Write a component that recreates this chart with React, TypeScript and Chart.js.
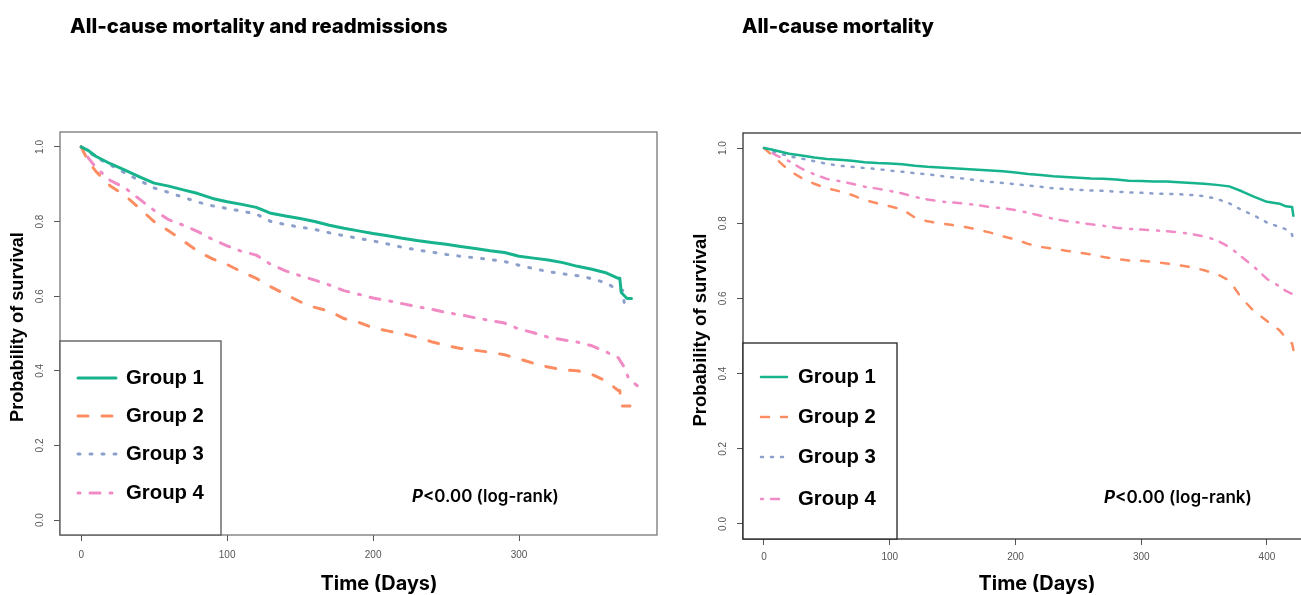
import React, { useEffect, useRef } from "react";
import { Chart, registerables } from "chart.js";

Chart.register(...registerables);

// ---------- data ----------
const GROUP_LABELS = ["Group 1", "Group 2", "Group 3", "Group 4"];
const GROUP_COLORS = ["#16B38D", "#FC8D62", "#8DA0CB", "#F08BC5"];

const Y_TICKS = [0, 0.2, 0.4, 0.6, 0.8, 1.0];
const X_TICKS_LEFT = [0, 100, 200, 300];
const X_TICKS_RIGHT = [0, 100, 200, 300, 400];

const TITLE_LEFT = "All-cause mortality and readmissions";
const TITLE_RIGHT = "All-cause mortality";
const Y_TITLE = "Probability of survival";
const X_TITLE = "Time (Days)";
const P_ITALIC = "P";
const P_REST = "<0.00 (log-rank)";

// Left panel: all-cause mortality and readmissions
const LEFT_TIMES = [0, 5, 10, 20, 30, 40, 50, 60, 70, 80, 90, 100, 110, 120, 130, 140, 150, 160, 170, 180, 190, 200, 210, 220, 230, 240, 250, 260, 270, 280, 290, 300, 310, 320, 330, 340, 350, 360];
const LEFT_G1 = [1.0, 0.99, 0.975, 0.955, 0.938, 0.92, 0.903, 0.895, 0.885, 0.875, 0.862, 0.853, 0.846, 0.838, 0.822, 0.815, 0.808, 0.8, 0.79, 0.782, 0.775, 0.768, 0.762, 0.755, 0.749, 0.744, 0.739, 0.733, 0.728, 0.722, 0.717, 0.707, 0.702, 0.697, 0.69, 0.68, 0.672, 0.662];
const LEFT_G2 = [1.0, 0.96, 0.935, 0.895, 0.87, 0.835, 0.8, 0.775, 0.748, 0.72, 0.7, 0.685, 0.665, 0.648, 0.625, 0.605, 0.585, 0.57, 0.56, 0.54, 0.53, 0.515, 0.507, 0.5, 0.49, 0.478, 0.468, 0.46, 0.455, 0.45, 0.443, 0.432, 0.42, 0.41, 0.403, 0.4, 0.39, 0.372];
const LEFT_G3 = [1.0, 0.988, 0.972, 0.952, 0.93, 0.91, 0.89, 0.878, 0.865, 0.852, 0.842, 0.835, 0.828, 0.82, 0.8, 0.792, 0.785, 0.779, 0.77, 0.762, 0.755, 0.748, 0.74, 0.731, 0.724, 0.718, 0.712, 0.707, 0.703, 0.698, 0.693, 0.683, 0.674, 0.666, 0.66, 0.655, 0.647, 0.635];
const LEFT_G4 = [1.0, 0.97, 0.945, 0.91, 0.89, 0.86, 0.83, 0.805, 0.79, 0.773, 0.752, 0.735, 0.72, 0.71, 0.685, 0.668, 0.655, 0.643, 0.63, 0.615, 0.605, 0.595, 0.588, 0.58, 0.572, 0.565, 0.556, 0.55, 0.542, 0.535, 0.528, 0.512, 0.502, 0.49, 0.483, 0.477, 0.467, 0.45];
const LEFT_G1_END_T = [368, 369, 370, 374, 377];
const LEFT_G1_END = [0.648, 0.648, 0.61, 0.594, 0.594];
const LEFT_G2_END_T = [368, 369, 370, 376];
const LEFT_G2_END = [0.347, 0.347, 0.306, 0.306];
const LEFT_G3_END_T = [368, 371, 372, 376];
const LEFT_G3_END = [0.616, 0.616, 0.583, 0.57];
const LEFT_G4_END_T = [368, 372, 375, 381];
const LEFT_G4_END = [0.435, 0.41, 0.38, 0.36];

// Right panel: all-cause mortality
const RIGHT_TIMES = [0, 5, 10, 20, 30, 40, 50, 60, 70, 80, 90, 100, 110, 120, 130, 140, 150, 160, 170, 180, 190, 200, 210, 220, 230, 240, 250, 260, 270, 280, 290, 300, 310, 320, 330, 340, 350, 360, 370, 380, 390, 400, 410];
const RIGHT_G1 = [1.0, 0.997, 0.993, 0.985, 0.98, 0.975, 0.971, 0.969, 0.966, 0.962, 0.96, 0.959, 0.957, 0.953, 0.95, 0.948, 0.946, 0.944, 0.942, 0.94, 0.938, 0.935, 0.931, 0.928, 0.925, 0.923, 0.921, 0.919, 0.918, 0.916, 0.913, 0.912, 0.911, 0.911, 0.909, 0.907, 0.905, 0.902, 0.898, 0.885, 0.87, 0.857, 0.852];
const RIGHT_G2 = [1.0, 0.985, 0.97, 0.94, 0.92, 0.905, 0.893, 0.885, 0.875, 0.862, 0.853, 0.845, 0.837, 0.815, 0.805, 0.8, 0.795, 0.79, 0.783, 0.775, 0.765, 0.757, 0.745, 0.737, 0.732, 0.727, 0.722, 0.717, 0.71, 0.705, 0.701, 0.7, 0.697, 0.693, 0.688, 0.683, 0.675, 0.665, 0.648, 0.6, 0.565, 0.54, 0.515];
const RIGHT_G3 = [1.0, 0.995, 0.988, 0.978, 0.972, 0.965, 0.958, 0.953, 0.95, 0.947, 0.944, 0.94, 0.937, 0.933, 0.93, 0.926, 0.922, 0.918, 0.914, 0.91, 0.907, 0.904, 0.9, 0.897, 0.893, 0.891, 0.889, 0.887, 0.886, 0.884, 0.882, 0.881, 0.879, 0.878, 0.877, 0.875, 0.872, 0.865, 0.853, 0.835, 0.82, 0.802, 0.79];
const RIGHT_G4 = [1.0, 0.99, 0.98, 0.965, 0.945, 0.93, 0.918, 0.912, 0.905, 0.897, 0.892, 0.886, 0.879, 0.87, 0.863, 0.858, 0.855, 0.852, 0.848, 0.843, 0.84, 0.835, 0.828, 0.82, 0.812, 0.806, 0.802, 0.797, 0.793, 0.788, 0.785, 0.783, 0.781, 0.779, 0.776, 0.771, 0.765, 0.755, 0.737, 0.71, 0.683, 0.652, 0.632];
const RIGHT_END_T = [415, 420, 421];
const RIGHT_G1_END = [0.845, 0.843, 0.82];
const RIGHT_G2_END = [0.495, 0.48, 0.463];
const RIGHT_G3_END = [0.784, 0.77, 0.749];
const RIGHT_G4_END = [0.62, 0.612, 0.595];

// ---------- helpers ----------
const toPoints = (t: number[], s: number[], tEnd: number[], sEnd: number[]) =>
  t.map((x, i) => ({ x, y: s[i] })).concat(tEnd.map((x, i) => ({ x, y: sEnd[i] })));

function fitFont(ctx: CanvasRenderingContext2D, text: string, weight: string, family: string, width: number, style = "") {
  const base = 20;
  ctx.font = `${style} ${weight} ${base}px ${family}`;
  const w = ctx.measureText(text).width;
  return (base * width) / w;
}

function drawFitted(ctx: CanvasRenderingContext2D, text: string, x: number, y: number, width: number, weight: string, family: string, color: string, align: CanvasTextAlign = "left") {
  const size = fitFont(ctx, text, weight, family, width);
  ctx.font = `${weight} ${size}px ${family}`;
  ctx.fillStyle = color;
  ctx.textAlign = align;
  ctx.textBaseline = "middle";
  ctx.fillText(text, x, y);
}

type PanelSpec = {
  canvasX: number;
  canvasW: number;
  area: { left: number; top: number; right: number; bottom: number };
  xMin: number;
  xMax: number;
  xTicks: number[];
  xTickPad: number;
  series: { x: number; y: number }[][];
  lineWidth: number;
  dashes: number[][];
  boxColor: string;
  title: string;
  titleX: number;
  titleW: number;
  yLabelX: number;
  yTitleX: number;
  yTitleY: number;
  yTitleW: number;
  xTitleX: number;
  xTitleY: number;
  xTitleW: number;
  pX: number;
  pY: number;
  pW: number;
  legBox: { left: number; top: number; right: number; bottom: number };
  legLineX0: number;
  legLineX1: number;
  legTextX: number;
  legTextW: number;
  legRows: number[];
  legColor: string;
};

const SANS = '"Liberation Sans", Arial, sans-serif';
const WORD = 'Inter, "Open Sans", sans-serif';

function makeOverlay(p: PanelSpec) {
  return {
    id: "overlay",
    afterDraw(chart: any) {
      const ctx: CanvasRenderingContext2D = chart.ctx;
      const a = chart.chartArea;
      const ox = p.canvasX;
      ctx.save();
      // plot box
      ctx.strokeStyle = p.boxColor;
      ctx.lineWidth = 1.3;
      ctx.strokeRect(a.left, a.top, a.right - a.left, a.bottom - a.top);

      // y tick labels (rotated, R style)
      const ys = chart.scales.y;
      ctx.fillStyle = "#555";
      ctx.font = `10px ${SANS}`;
      ctx.textAlign = "center";
      ctx.textBaseline = "middle";
      Y_TICKS.forEach((v) => {
        const y = ys.getPixelForValue(v);
        ctx.save();
        ctx.translate(p.yLabelX - ox, y);
        ctx.rotate(-Math.PI / 2);
        ctx.fillText(v.toFixed(1), 0, 0);
        ctx.restore();
      });

      // legend box
      const lb = p.legBox;
      ctx.fillStyle = "#fff";
      ctx.fillRect(lb.left - ox, lb.top, lb.right - lb.left, lb.bottom - lb.top);
      ctx.strokeStyle = p.legColor;
      ctx.lineWidth = 1.3;
      ctx.strokeRect(lb.left - ox, lb.top, lb.right - lb.left, lb.bottom - lb.top);
      GROUP_LABELS.forEach((lab, i) => {
        const y = p.legRows[i];
        ctx.save();
        ctx.strokeStyle = GROUP_COLORS[i];
        ctx.lineWidth = p.lineWidth;
        ctx.lineCap = "round";
        ctx.setLineDash(p.dashes[i]);
        ctx.beginPath();
        ctx.moveTo(p.legLineX0 - ox, y);
        ctx.lineTo(p.legLineX1 - ox, y);
        ctx.stroke();
        ctx.restore();
        drawFitted(ctx, lab, p.legTextX - ox, y, p.legTextW, "bold", SANS, "#000");
      });

      // title
      drawFitted(ctx, p.title, p.titleX - ox, 27, p.titleW, "800", WORD, "#000");

      // y axis title
      ctx.save();
      ctx.translate(p.yTitleX - ox, p.yTitleY);
      ctx.rotate(-Math.PI / 2);
      drawFitted(ctx, Y_TITLE, 0, 0, p.yTitleW, "bold", SANS, "#000", "center");
      ctx.restore();

      // x axis title
      drawFitted(ctx, X_TITLE, p.xTitleX - ox, p.xTitleY, p.xTitleW, "bold", WORD, "#000", "center");

      // p-value annotation
      const base = 20;
      ctx.font = `italic 700 ${base}px ${WORD}`;
      const w1 = ctx.measureText(P_ITALIC).width;
      ctx.font = `600 ${base}px ${WORD}`;
      const w2 = ctx.measureText(P_REST).width;
      const s = (base * p.pW) / (w1 + w2);
      ctx.fillStyle = "#000";
      ctx.textAlign = "left";
      ctx.textBaseline = "middle";
      ctx.font = `italic 700 ${s}px ${WORD}`;
      ctx.fillText(P_ITALIC, p.pX - ox, p.pY);
      const pw = ctx.measureText(P_ITALIC).width;
      ctx.font = `600 ${s}px ${WORD}`;
      ctx.fillText(P_REST, p.pX - ox + pw, p.pY);

      ctx.restore();
    },
  };
}

function makeConfig(p: PanelSpec): any {
  const a = p.area;
  const yWidth = a.left - p.canvasX;
  return {
    type: "line",
    data: {
      datasets: p.series.map((pts, i) => ({
        label: GROUP_LABELS[i],
        data: pts,
        borderColor: GROUP_COLORS[i],
        backgroundColor: GROUP_COLORS[i],
        borderWidth: p.lineWidth,
        borderDash: p.dashes[i],
        borderCapStyle: "round",
        borderJoinStyle: "round",
        tension: 0,
        pointRadius: 0,
        fill: false,
      })),
    },
    options: {
      responsive: false,
      animation: false,
      devicePixelRatio: 1,
      layout: {
        padding: { left: 0, top: a.top, right: p.canvasX + p.canvasW - a.right, bottom: 0 },
      },
      plugins: { legend: { display: false }, tooltip: { enabled: false }, title: { display: false } },
      scales: {
        x: {
          type: "linear",
          min: p.xMin,
          max: p.xMax,
          afterBuildTicks: (s: any) => {
            s.ticks = p.xTicks.map((v) => ({ value: v }));
          },
          afterFit: (s: any) => {
            s.height = 595 - a.bottom;
          },
          grid: { display: true, drawOnChartArea: false, drawTicks: true, tickLength: 6, color: "#555", lineWidth: 1 },
          border: { display: false },
          ticks: { color: "#555", font: { family: "Liberation Sans", size: 10 }, padding: p.xTickPad, maxRotation: 0, autoSkip: false },
        },
        y: {
          type: "linear",
          min: -0.04,
          max: 1.04,
          afterBuildTicks: (s: any) => {
            s.ticks = Y_TICKS.map((v) => ({ value: v }));
          },
          afterFit: (s: any) => {
            s.width = yWidth;
          },
          grid: { display: true, drawOnChartArea: false, drawTicks: true, tickLength: 6, color: "#555", lineWidth: 1 },
          border: { display: false },
          ticks: { display: false },
        },
      },
    },
    plugins: [makeOverlay(p)],
  };
}

const LEFT_DASHES = [[], [10, 14], [2, 10], [2, 10, 10, 10]];
const RIGHT_DASHES = [[], [8, 12], [2, 8], [2, 8, 8, 9]];

const LEFT_SPEC: PanelSpec = {
  canvasX: 0,
  canvasW: 680,
  area: { left: 60, top: 132, right: 657, bottom: 535 },
  xMin: -14.5,
  xMax: 394.5,
  xTicks: X_TICKS_LEFT,
  xTickPad: 8,
  series: [
    toPoints(LEFT_TIMES, LEFT_G1, LEFT_G1_END_T, LEFT_G1_END),
    toPoints(LEFT_TIMES, LEFT_G2, LEFT_G2_END_T, LEFT_G2_END),
    toPoints(LEFT_TIMES, LEFT_G3, LEFT_G3_END_T, LEFT_G3_END),
    toPoints(LEFT_TIMES, LEFT_G4, LEFT_G4_END_T, LEFT_G4_END),
  ],
  lineWidth: 3,
  dashes: LEFT_DASHES,
  boxColor: "#777",
  title: TITLE_LEFT,
  titleX: 70,
  titleW: 378,
  yLabelX: 40,
  yTitleX: 18,
  yTitleY: 327,
  yTitleW: 190,
  xTitleX: 379,
  xTitleY: 584,
  xTitleW: 117,
  pX: 412,
  pY: 497,
  pW: 147,
  legBox: { left: 60, top: 341, right: 221, bottom: 535 },
  legLineX0: 78,
  legLineX1: 116,
  legTextX: 126,
  legTextW: 78,
  legRows: [378, 416, 454, 493],
  legColor: "#555",
};

const RIGHT_SPEC: PanelSpec = {
  canvasX: 680,
  canvasW: 660,
  area: { left: 743, top: 133, right: 1315, bottom: 539 },
  xMin: -16.7,
  xMax: 438.2,
  xTicks: X_TICKS_RIGHT,
  xTickPad: 6,
  series: [
    toPoints(RIGHT_TIMES, RIGHT_G1, RIGHT_END_T, RIGHT_G1_END),
    toPoints(RIGHT_TIMES, RIGHT_G2, RIGHT_END_T, RIGHT_G2_END),
    toPoints(RIGHT_TIMES, RIGHT_G3, RIGHT_END_T, RIGHT_G3_END),
    toPoints(RIGHT_TIMES, RIGHT_G4, RIGHT_END_T, RIGHT_G4_END),
  ],
  lineWidth: 2.5,
  dashes: RIGHT_DASHES,
  boxColor: "#333",
  title: TITLE_RIGHT,
  titleX: 742,
  titleW: 192,
  yLabelX: 723,
  yTitleX: 701,
  yTitleY: 330,
  yTitleW: 193,
  xTitleX: 1037,
  xTitleY: 584,
  xTitleW: 117,
  pX: 1104,
  pY: 498,
  pW: 148,
  legBox: { left: 743, top: 343, right: 897, bottom: 539 },
  legLineX0: 761,
  legLineX1: 787,
  legTextX: 798,
  legTextW: 78,
  legRows: [377, 417, 457, 499],
  legColor: "#222",
};

function Panel({ spec }: { spec: PanelSpec }) {
  const ref = useRef<HTMLCanvasElement>(null);
  useEffect(() => {
    const chart = new Chart(ref.current as HTMLCanvasElement, makeConfig(spec));
    return () => chart.destroy();
  }, [spec]);
  return (
    <canvas
      ref={ref}
      width={spec.canvasW}
      height={595}
      style={{ position: "absolute", left: spec.canvasX, top: 0, width: spec.canvasW, height: 595 }}
    />
  );
}

export default function App() {
  return (
    <div
      style={{
        position: "fixed",
        left: 0,
        top: 0,
        width: 1301,
        height: 595,
        overflow: "hidden",
        background: "#fff",
      }}
    >
      <Panel spec={LEFT_SPEC} />
      <Panel spec={RIGHT_SPEC} />
    </div>
  );
}
